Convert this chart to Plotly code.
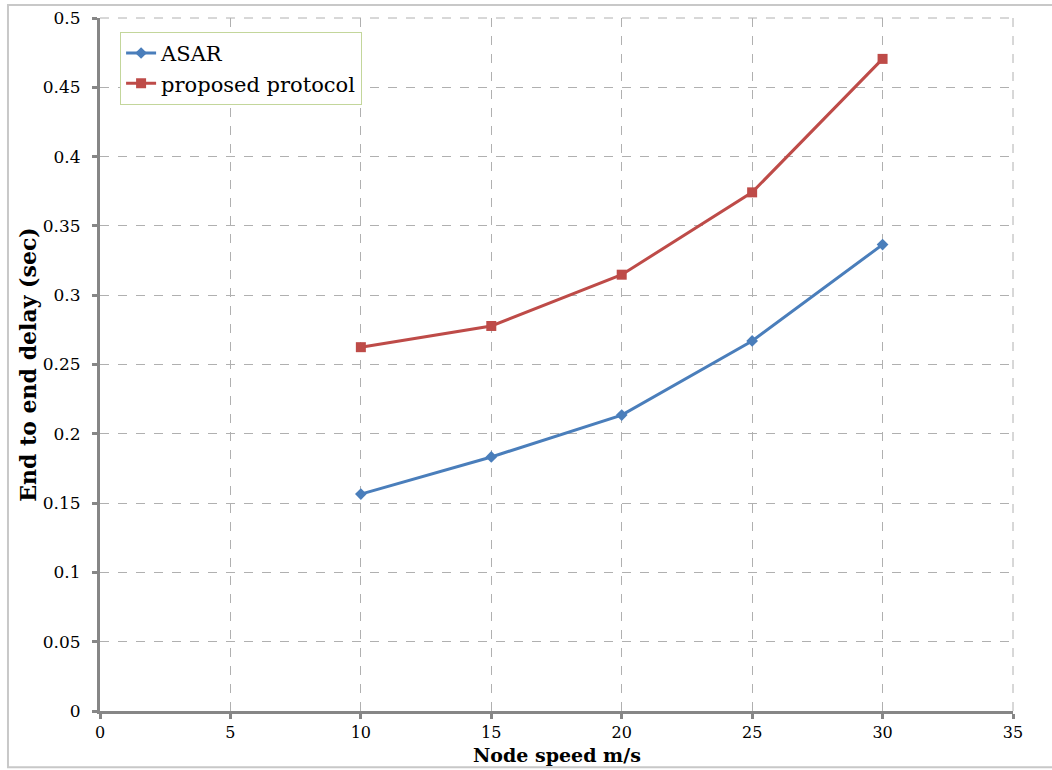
import plotly.graph_objects as go

speeds = [10, 15, 20, 25, 30]
asar = [0.1565, 0.1833, 0.2135, 0.267, 0.3365]
proposed = [0.2625, 0.2778, 0.3148, 0.3742, 0.4705]

x_ticks = [0, 5, 10, 15, 20, 25, 30, 35]
y_ticks = [0, 0.05, 0.1, 0.15, 0.2, 0.25, 0.3, 0.35, 0.4, 0.45, 0.5]
y_labels = ["0", "0.05", "0.1", "0.15", "0.2", "0.25", "0.3", "0.35", "0.4", "0.45", "0.5"]

FONT = "DejaVu Serif, serif"

fig = go.Figure()
fig.add_trace(go.Scatter(x=speeds, y=asar, name="ASAR", mode="lines+markers",
                         line=dict(color="#4a7ebb", width=3),
                         marker=dict(symbol="diamond", size=9, color="#4a7ebb")))
fig.add_trace(go.Scatter(x=speeds, y=proposed, name="proposed protocol", mode="lines+markers",
                         line=dict(color="#be4b48", width=3),
                         marker=dict(symbol="square", size=10, color="#be4b48")))

axis_common = dict(showgrid=True, gridcolor="#b0b0b0", griddash="dash", gridwidth=1,
                   showline=True, linecolor="#868686", linewidth=3,
                   ticks="outside", ticklen=5, tickwidth=3, tickcolor="#868686",
                   zeroline=False, automargin=False)

fig.update_layout(
    width=1052, height=770,
    margin=dict(l=100, r=39, t=18, b=59),
    paper_bgcolor="white", plot_bgcolor="white",
    font=dict(family=FONT, color="#000"),
    xaxis=dict(range=[0, 35], tickvals=x_ticks, **axis_common, ticklabelstandoff=0,
               tickfont=dict(family=FONT, size=16, color="#000")),
    yaxis=dict(range=[0, 0.5], tickvals=y_ticks, ticktext=y_labels, **axis_common, ticklabelstandoff=8,
               tickfont=dict(family=FONT, size=17, color="#000"),
               title=dict(text="<b>End to end delay (sec)</b>", font=dict(family=FONT, size=22), standoff=1)),
    legend=dict(x=0.022, y=0.98, xanchor="left", yanchor="top",
                bgcolor="white", bordercolor="#c3d69b", borderwidth=1,
                font=dict(family=FONT, size=21), tracegroupgap=4, itemwidth=30),
    showlegend=True,
)
fig.add_annotation(text="<b>Node speed m/s</b>", xref="paper", yref="paper",
                   x=0.5, y=-0.081, xanchor="center", yanchor="bottom", showarrow=False,
                   borderpad=0, font=dict(family=FONT, size=19, color="#000"))
# top and right dashed frame
fig.add_shape(type="line", xref="paper", yref="paper", x0=0, x1=1, y0=1, y1=1,
              line=dict(color="#b0b0b0", width=1, dash="dash"))
fig.add_shape(type="line", xref="paper", yref="paper", x0=1, x1=1, y0=0, y1=1,
              line=dict(color="#b0b0b0", width=1, dash="dash"))
# outer chart border
fig.add_shape(type="rect", xref="paper", yref="paper", x0=-0.1008, x1=1.045, y0=-0.081, y1=1.0188,
              line=dict(color="#c8c8c8", width=2), layer="below")

fig.write_html("out.html")
